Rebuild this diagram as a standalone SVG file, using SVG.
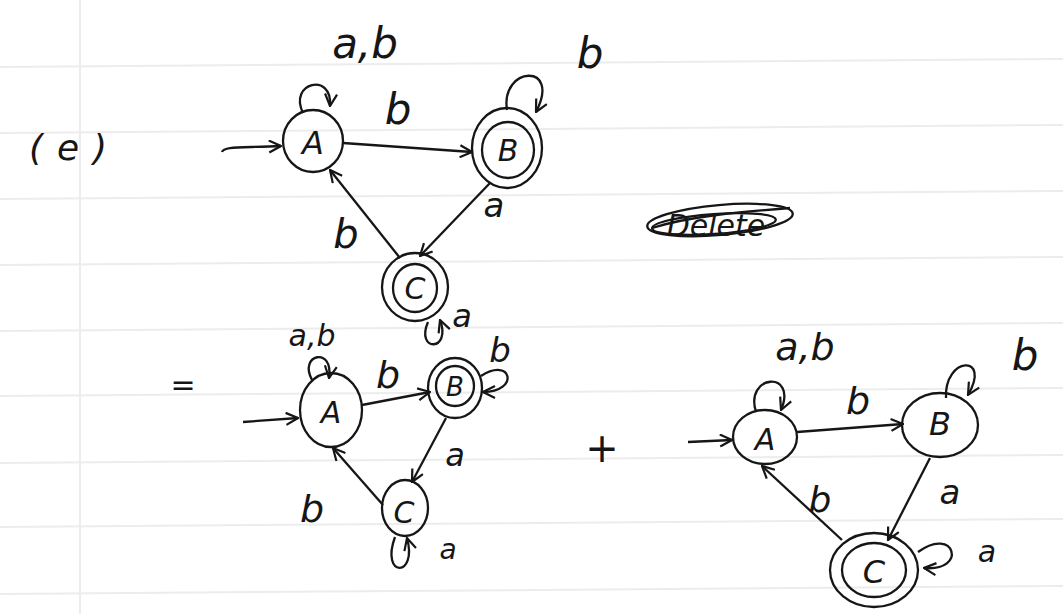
<svg xmlns="http://www.w3.org/2000/svg" width="1063" height="614" viewBox="0 0 1063 614">
<style>
.ln{stroke:#ececec;stroke-width:2;fill:none}
.st{fill:none;stroke:#161616;stroke-width:2.3}
.e{fill:none;stroke:#161616;stroke-width:2.3;marker-end:url(#ah)}
.lb{font-family:"DejaVu Sans",sans-serif;font-style:italic;fill:#161616;text-anchor:middle}
.nm{font-family:"DejaVu Sans",sans-serif;font-style:italic;fill:#161616;text-anchor:middle;dominant-baseline:central}
</style>
<defs>
<marker id="ah" viewBox="0 0 14 14" refX="13" refY="7" markerWidth="14" markerHeight="14" orient="auto" markerUnits="userSpaceOnUse">
<path d="M1 1 L13 7 L1 13" fill="none" stroke="#161616" stroke-width="2.2"/>
</marker>
</defs>
<rect width="1063" height="614" fill="#ffffff"/>
<g id="paper">
<line class="ln" x1="0" y1="67" x2="1063" y2="59"/>
<line class="ln" x1="0" y1="133" x2="1063" y2="125"/>
<line class="ln" x1="0" y1="199" x2="1063" y2="191"/>
<line class="ln" x1="0" y1="265" x2="1063" y2="257"/>
<line class="ln" x1="0" y1="331" x2="1063" y2="323"/>
<line class="ln" x1="0" y1="396" x2="1063" y2="388"/>
<line class="ln" x1="0" y1="463" x2="1063" y2="455"/>
<line class="ln" x1="0" y1="527" x2="1063" y2="519"/>
<line class="ln" x1="0" y1="594" x2="1063" y2="586"/>
<line class="ln" x1="80" y1="0" x2="80" y2="614"/>
</g>
<g id="annotations">
<text x="75" y="160" class="lb" font-size="36" letter-spacing="14">(e)</text>
<text x="183" y="395" class="lb" font-size="30">=</text>
<text x="602" y="462" class="lb" font-size="40">+</text>
<g id="delete">
<text x="716" y="236" class="lb" font-size="30">Delete</text>
<ellipse cx="720" cy="220" rx="73" ry="15" class="st" transform="rotate(-5 720 220)"/>
<ellipse cx="714" cy="224" rx="62" ry="10" class="st" transform="rotate(-4 714 224)"/>
<path class="st" d="M652 228 C690 216 740 212 790 208"/>
</g>
</g>
<g id="connectors">
<!-- diagram 1 -->
<path class="e" d="M222 152 C224 146 240 148 281 146"/>
<path class="e" d="M343 143 L472 152"/>
<path class="e" d="M490 183 L420 256"/>
<path class="e" d="M400 258 L330 170"/>
<path class="e" d="M303 113 C288 82 333 72 330 106"/>
<path class="e" d="M507 110 C500 66 562 62 536 112"/>
<path class="e" d="M428 322 C415 352 452 352 440 320"/>
<!-- diagram 2 -->
<path class="e" d="M243 422 L298 418"/>
<path class="e" d="M362 405 L430 392"/>
<path class="e" d="M446 418 L412 482"/>
<path class="e" d="M383 505 L333 448"/>
<path class="e" d="M312 380 C298 354 334 346 329 378"/>
<path class="e" d="M481 376 C512 356 520 392 483 392"/>
<path class="e" d="M395 537 C380 578 418 578 407 538"/>
<!-- diagram 3 -->
<path class="e" d="M688 442 L732 440"/>
<path class="e" d="M797 432 L903 424"/>
<path class="e" d="M930 458 L888 540"/>
<path class="e" d="M842 540 L762 466"/>
<path class="e" d="M756 412 C744 374 798 370 781 410"/>
<path class="e" d="M946 398 C944 356 992 354 968 395"/>
<path class="e" d="M918 552 C955 525 968 572 924 568"/>
</g>
<g id="edge-labels">
<text x="365" y="58" class="lb" font-size="42">a,b</text>
<text x="398" y="124" class="lb" font-size="42">b</text>
<text x="590" y="68" class="lb" font-size="42">b</text>
<text x="494" y="217" class="lb" font-size="34">a</text>
<text x="346" y="248" class="lb" font-size="40">b</text>
<text x="462" y="327" class="lb" font-size="32">a</text>

<text x="312" y="346" class="lb" font-size="30">a,b</text>
<text x="388" y="388" class="lb" font-size="38">b</text>
<text x="500" y="362" class="lb" font-size="34">b</text>
<text x="455" y="466" class="lb" font-size="32">a</text>
<text x="312" y="522" class="lb" font-size="38">b</text>
<text x="448" y="559" class="lb" font-size="28">a</text>

<text x="805" y="360" class="lb" font-size="38">a,b</text>
<text x="858" y="414" class="lb" font-size="38">b</text>
<text x="1025" y="370" class="lb" font-size="42">b</text>
<text x="950" y="504" class="lb" font-size="34">a</text>
<text x="820" y="512" class="lb" font-size="36">b</text>
<text x="987" y="562" class="lb" font-size="30">a</text>
</g>
<g id="d1-A"><ellipse cx="313" cy="141" rx="30" ry="31" class="st"/><text x="313" y="143" class="nm" font-size="32">A</text></g>
<g id="d1-B"><ellipse cx="507" cy="148" rx="35" ry="40" class="st"/><ellipse cx="508" cy="150" rx="26" ry="28" class="st"/><text x="508" y="150" class="nm" font-size="30">B</text></g>
<g id="d1-C"><ellipse cx="415" cy="287" rx="33" ry="34" class="st"/><ellipse cx="415" cy="288" rx="22" ry="24" class="st"/><text x="415" y="288" class="nm" font-size="30">C</text></g>

<g id="d2-A"><ellipse cx="331" cy="410" rx="31" ry="37" class="st"/><text x="331" y="412" class="nm" font-size="30">A</text></g>
<g id="d2-B"><ellipse cx="455" cy="388" rx="27" ry="30" class="st"/><ellipse cx="455" cy="386" rx="19" ry="20" class="st"/><text x="455" y="387" class="nm" font-size="26">B</text></g>
<g id="d2-C"><ellipse cx="405" cy="508" rx="23" ry="28" class="st"/><text x="404" y="512" class="nm" font-size="30">C</text></g>

<g id="d3-A"><ellipse cx="765" cy="437" rx="32" ry="27" class="st"/><text x="765" y="439" class="nm" font-size="30">A</text></g>
<g id="d3-B"><ellipse cx="940" cy="425" rx="38" ry="32" class="st"/><text x="940" y="424" class="nm" font-size="32">B</text></g>
<g id="d3-C"><ellipse cx="874" cy="570" rx="44" ry="37" class="st"/><ellipse cx="874" cy="570" rx="32" ry="27" class="st"/><text x="874" y="572" class="nm" font-size="32">C</text></g>
</svg>
